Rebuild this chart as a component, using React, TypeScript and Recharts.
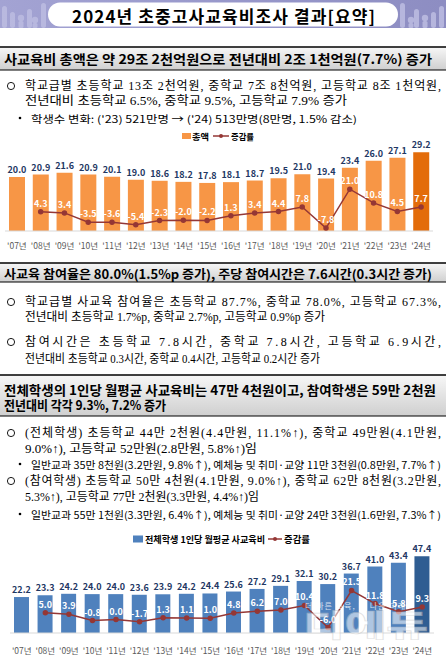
import React from 'react';
import { ComposedChart, Bar, Line, XAxis, YAxis, Cell, LabelList } from 'recharts';

const years = ["'07년", "'08년", "'09년", "'10년", "'11년", "'12년", "'13년", "'14년", "'15년", "'16년", "'17년", "'18년", "'19년", "'20년", "'21년", "'22년", "'23년", "'24년"];
// 사교육비 총액 (조원) / 증감률 (%)
const totalCost = [20.0, 20.9, 21.6, 20.9, 20.1, 19.0, 18.6, 18.2, 17.8, 18.1, 18.7, 19.5, 21.0, 19.4, 23.4, 26.0, 27.1, 29.2];
const totalGrowth = [null, 4.3, 3.4, -3.5, -3.6, -5.4, -2.3, -2.0, -2.2, 1.3, 3.4, 4.4, 7.8, -7.8, 21.0, 10.8, 4.5, 7.7];
// 전체학생 1인당 월평균 사교육비 (만원) / 증감률 (%)
const perStudentCost = [22.2, 23.3, 24.2, 24.0, 24.0, 23.6, 23.9, 24.2, 24.4, 25.6, 27.2, 29.1, 32.1, 30.2, 36.7, 41.0, 43.4, 47.4];
const perStudentGrowth = [null, 5.0, 3.9, -0.8, 0.0, -1.7, 1.3, 1.1, 1.0, 4.8, 6.2, 7.0, 10.4, -6.0, 21.5, 11.8, 5.8, 9.3];

const SANS = "'Noto Sans CJK KR', 'Noto Sans', sans-serif";
const BODY = "'Liberation Serif', 'Noto Sans CJK KR', serif";
const LINE_COLOR = '#953735';

const fmt = (v: any) => (v == null ? '' : Number(v).toFixed(1));

function YearTick(props: any) {
  const { x, y, payload, off } = props;
  return (
    <text x={x} y={y + off} textAnchor="middle" dominantBaseline="central" fontSize={8.5} fill="#595959" fontFamily={SANS}>
      {payload.value}
    </text>
  );
}

function CostChart(props: any) {
  const { values, growth, color, lastColor, top, height, margin, xHeight, yMax, tickOff, barSize } = props;
  const data = years.map((year, i) => ({ year, value: values[i], growth: growth[i] }));
  return (
    <div style={{ position: 'absolute', left: 0, top }}>
      <ComposedChart width={446} height={height} data={data} margin={margin}>
        <XAxis
          dataKey="year"
          interval={0}
          tickLine={false}
          tickSize={0}
          tickMargin={0}
          height={xHeight}
          axisLine={{ stroke: '#D9D9D9' }}
          tick={<YearTick off={tickOff} />}
        />
        <YAxis yAxisId="l" hide domain={[0, yMax]} />
        <YAxis yAxisId="r" hide orientation="right" domain={[-10, 50]} />
        <Bar yAxisId="l" dataKey="value" barSize={barSize} isAnimationActive={false}>
          {data.map((d, i) => (
            <Cell key={d.year} fill={i === data.length - 1 ? lastColor : color} />
          ))}
          <LabelList dataKey="value" position="top" offset={4} fill="#1F3864" fontSize={9} fontWeight={700} fontFamily={SANS} formatter={fmt} />
        </Bar>
        <Line
          yAxisId="r"
          type="linear"
          dataKey="growth"
          stroke={LINE_COLOR}
          strokeWidth={1.5}
          dot={{ r: 2, fill: LINE_COLOR, stroke: LINE_COLOR }}
          isAnimationActive={false}
        >
          <LabelList dataKey="growth" position="top" offset={5} fill="#FFFFFF" fontSize={9} fontWeight={700} fontFamily={SANS} formatter={fmt} />
        </Line>
      </ComposedChart>
    </div>
  );
}

function TextRow({ x, cy, w, size = 12, bold = false, font = BODY, adjust = 'spacingAndGlyphs', children }: any) {
  return (
    <text
      x={x}
      y={cy}
      dominantBaseline="central"
      fontSize={size}
      fontWeight={bold ? 700 : 400}
      fontFamily={font}
      textLength={w}
      lengthAdjust={adjust}
      fill="#000"
    >
      {children}
    </text>
  );
}

function Bullet({ cy }: any) {
  return <circle cx={11} cy={cy} r={3.6} fill="none" stroke="#000" strokeWidth={0.9} />;
}

function Dot({ cy }: any) {
  return <circle cx={20} cy={cy} r={1.3} fill="#000" />;
}

function SectionHead({ y1, y2 }: any) {
  return (
    <g>
      <rect x={0} y={y1} width={446} height={y2 - y1} fill="url(#headGrad)" />
      <line x1={0} x2={446} y1={y1} y2={y1} stroke="#000" strokeWidth={1.6} />
      <line x1={0} x2={446} y1={y2} y2={y2} stroke="#000" strokeWidth={1} />
    </g>
  );
}

function Deco({ x0, flip }: any) {
  const bars = [
    [2, 6, 22], [10, 12, 16], [27, 9, 19], [41, 3, 25],
  ];
  const knobs = [[21, 18], [35, 20]];
  const tx = (v: number) => (flip ? x0 - v : x0 + v);
  return (
    <g fill="#BDBDE2" opacity={0.85}>
      {bars.map(([x, y, h], i) => (
        <rect key={i} x={tx(x) - (flip ? 5 : 0)} y={y} width={5} height={h} rx={2.5} />
      ))}
      {knobs.map(([x, y], i) => (
        <g key={i}>
          <circle cx={tx(x)} cy={y} r={3.2} />
          <rect x={tx(x) - 2.5} y={y + 3} width={5} height={28 - y - 3} rx={1.5} />
        </g>
      ))}
    </g>
  );
}

export default function App() {
  return (
    <div style={{ position: 'fixed', left: 0, top: 0, width: 446, height: 657, background: '#fff', overflow: 'hidden' }}>
      <svg width={446} height={657} style={{ position: 'absolute', left: 0, top: 0 }}>
        <defs>
          <linearGradient id="headGrad" x1="0" y1="0" x2="0" y2="1">
            <stop offset="0%" stopColor="#F7F7F7" />
            <stop offset="100%" stopColor="#CFCFCF" />
          </linearGradient>
          <linearGradient id="bandGrad" x1="0" y1="0" x2="1" y2="0">
            <stop offset="0%" stopColor="#A3A3D3" />
            <stop offset="100%" stopColor="#8D8DC2" />
          </linearGradient>
        </defs>

        {/* title band */}
        <rect x={0} y={0} width={446} height={28} fill="url(#bandGrad)" />
        <Deco x0={0} flip={false} />
        <Deco x0={446} flip={true} />
        <rect x={48} y={2.5} width={350} height={24} rx={12} fill="#fff" />
        <text x={223.5} y={15} textAnchor="middle" dominantBaseline="central" fontSize={17} fontWeight={700} fontFamily={SANS} textLength={303} lengthAdjust="spacing">
          2024년 초중고사교육비조사 결과[요약]
        </text>

        {/* section 1 */}
        <SectionHead y1={47} y2={70} />
        <TextRow x={4} cy={58.5} w={428} size={13} bold font={SANS}>사교육비 총액은 약 29조 2천억원으로 전년대비 2조 1천억원(7.7%) 증가</TextRow>
        <Bullet cy={86} />
        <TextRow x={25} cy={86} w={416} adjust="spacing">학교급별 초등학교 13조 2천억원, 중학교 7조 8천억원, 고등학교 8조 1천억원,</TextRow>
        <TextRow x={25} cy={101} w={322}>전년대비 초등학교 6.5%, 중학교 9.5%, 고등학교 7.9% 증가</TextRow>
        <Dot cy={118} />
        <TextRow x={31} cy={118} w={326} size={10} font={SANS}>학생수 변화: ('23) 521만명 → ('24) 513만명(8만명, 1.5% 감소)</TextRow>

        {/* legend 1 */}
        <rect x={182} y={133} width={9} height={6} fill="#F79646" />
        <TextRow x={192} cy={136} w={17} size={8.5} bold font={SANS}>총액</TextRow>
        <line x1={213} x2={229} y1={136} y2={136} stroke={LINE_COLOR} strokeWidth={1.5} />
        <circle cx={221} cy={136} r={2} fill={LINE_COLOR} />
        <TextRow x={231} cy={136} w={23} size={8.5} bold font={SANS}>증감률</TextRow>

        {/* section 2 */}
        <SectionHead y1={263} y2={282} />
        <TextRow x={4} cy={273} w={428} size={12.5} bold font={SANS}>사교육 참여율은 80.0%(1.5%p 증가), 주당 참여시간은 7.6시간(0.3시간 증가)</TextRow>
        <Bullet cy={302} />
        <TextRow x={25} cy={302} w={416} adjust="spacing">학교급별 사교육 참여율은 초등학교 87.7%, 중학교 78.0%, 고등학교 67.3%,</TextRow>
        <TextRow x={25} cy={317} w={300}>전년대비 초등학교 1.7%p, 중학교 2.7%p, 고등학교 0.9%p 증가</TextRow>
        <Bullet cy={342} />
        <TextRow x={25} cy={342} w={416} adjust="spacing">참여시간은 초등학교 7.8시간, 중학교 7.8시간, 고등학교 6.9시간,</TextRow>
        <TextRow x={25} cy={359} w={295}>전년대비 초등학교 0.3시간, 중학교 0.4시간, 고등학교 0.2시간 증가</TextRow>

        {/* section 3 */}
        <SectionHead y1={375} y2={416} />
        <TextRow x={4} cy={389} w={432} size={13} bold font={SANS}>전체학생의 1인당 월평균 사교육비는 47만 4천원이고, 참여학생은 59만 2천원</TextRow>
        <TextRow x={4} cy={404} w={162} size={13} bold font={SANS}>전년대비 각각 9.3%, 7.2% 증가</TextRow>
        <Bullet cy={433} />
        <TextRow x={25} cy={433} w={416} adjust="spacing">(전체학생) 초등학교 44만 2천원(4.4만원, 11.1%↑), 중학교 49만원(4.1만원,</TextRow>
        <TextRow x={25} cy={449} w={232}>9.0%↑), 고등학교 52만원(2.8만원, 5.8%↑)임</TextRow>
        <Dot cy={464} />
        <TextRow x={31} cy={464} w={410} size={10} font={SANS}>일반교과 35만 8천원(3.2만원, 9.8%↑), 예체능 및 취미·교양 11만 3천원(0.8만원, 7.7%↑)</TextRow>
        <Bullet cy={481} />
        <TextRow x={25} cy={481} w={416} adjust="spacing">(참여학생) 초등학교 50만 4천원(4.1만원, 9.0%↑), 중학교 62만 8천원(3.2만원,</TextRow>
        <TextRow x={25} cy={497} w={234}>5.3%↑), 고등학교 77만 2천원(3.3만원, 4.4%↑)임</TextRow>
        <Dot cy={514} />
        <TextRow x={31} cy={514} w={410} size={10} font={SANS}>일반교과 55만 1천원(3.3만원, 6.4%↑), 예체능 및 취미·교양 24만 3천원(1.6만원, 7.3%↑)</TextRow>

        {/* legend 2 */}
        <rect x={133} y={535.5} width={10} height={7} fill="#4F81BD" />
        <TextRow x={145} cy={539} w={120} size={9} bold font={SANS}>전체학생 1인당 월평균 사교육비</TextRow>
        <line x1={268} x2={282} y1={539} y2={539} stroke={LINE_COLOR} strokeWidth={1.5} />
        <circle cx={275} cy={539} r={2} fill={LINE_COLOR} />
        <TextRow x={284} cy={539} w={26} size={9} bold font={SANS}>증감률</TextRow>
      </svg>

      <CostChart
        values={totalCost}
        growth={totalGrowth}
        color="#F79646"
        lastColor="#E36C0A"
        top={135}
        height={122}
        margin={{ top: 15, right: 13, left: 5, bottom: 0 }}
        xHeight={26}
        yMax={30}
        tickOff={14}
        barSize={16}
      />
      <CostChart
        values={perStudentCost}
        growth={perStudentGrowth}
        color="#4F81BD"
        lastColor="#2F5D92"
        top={540}
        height={117}
        margin={{ top: 12, right: 12, left: 10, bottom: 0 }}
        xHeight={24}
        yMax={50}
        tickOff={17}
        barSize={15}
      />

      {/* watermark */}
      <svg width={446} height={657} style={{ position: 'absolute', left: 0, top: 0, pointerEvents: 'none' }}>
        <text x={305} y={605} dominantBaseline="central" fontSize={8} fontFamily={SANS} fill="#FFFFFF" opacity={0.75} textLength={100} lengthAdjust="spacing">
          더 바른 교육, 더 나은 미래
        </text>
        <text x={303} y={623} dominantBaseline="central" fontSize={30} fontWeight={900} fontFamily={SANS} fill="#FFFFFF" stroke="#C8C8C8" strokeWidth={0.6} opacity={0.55} textLength={125} lengthAdjust="spacingAndGlyphs">
          디에듀
        </text>
      </svg>
    </div>
  );
}
